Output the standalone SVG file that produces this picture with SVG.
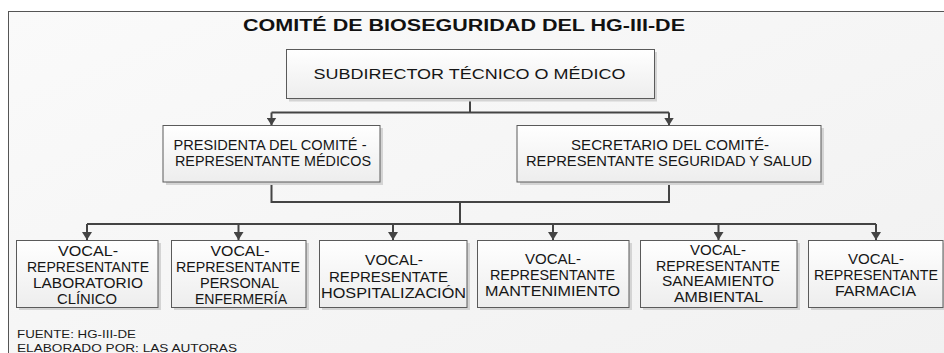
<svg xmlns="http://www.w3.org/2000/svg" width="944" height="353" viewBox="0 0 944 353">
<style>
.t{font-family:"Liberation Sans",Arial,sans-serif;fill:#161616;text-anchor:middle}
.title{font-size:16px;font-weight:bold;fill:#111}
.top{font-size:15px}
.mid{font-size:14px}
.bot{font-size:13.8px}
.foot{font-family:"Liberation Sans",Arial,sans-serif;font-size:11px;fill:#1a1a1a}
.box{fill:url(#bg);stroke:#5a5a5a;stroke-width:1}
.sh{fill:#d4d4d4}
.ln{fill:none;stroke:#444;stroke-width:2}
.ar{fill:none;stroke:#444;stroke-width:2;marker-end:url(#ah)}
</style>
<defs>
<linearGradient id="bg" x1="0" y1="0" x2="0" y2="1">
<stop offset="0" stop-color="#ffffff"/>
<stop offset="1" stop-color="#ededed"/>
</linearGradient>
<linearGradient id="frame" x1="0" y1="0" x2="1" y2="1">
<stop offset="0" stop-color="#fafafa"/>
<stop offset="1" stop-color="#f0f0f0"/>
</linearGradient>
<marker id="ah" viewBox="0 0 10 10" refX="10" refY="5" markerWidth="8" markerHeight="10" markerUnits="userSpaceOnUse" orient="auto" preserveAspectRatio="none">
<path d="M0,0 L10,5 L0,10 z" fill="#444"/>
</marker>
</defs>
<rect x="0" y="0" width="944" height="353" fill="#ffffff"/>
<rect id="frame-border" x="8.5" y="11.5" width="1000" height="400" fill="url(#frame)" stroke="#555" stroke-width="1"/>
<text class="t title" x="464" y="31" textLength="442" lengthAdjust="spacingAndGlyphs">COMITÉ DE BIOSEGURIDAD DEL HG-III-DE</text>

<g id="connectors">
<path class="ln" d="M470,98.5 V112.5 M271.5,112.5 H669"/>
<path class="ar" d="M271.5,112.5 V125.5"/>
<path class="ar" d="M669,112.5 V125.5"/>
<path class="ln" d="M271.5,182 V202 H669 V182 M460,202 V224 M87,224 H876"/>
<path class="ar" d="M87,224 V240"/>
<path class="ar" d="M238.5,224 V240"/>
<path class="ar" d="M393,224 V240"/>
<path class="ar" d="M553,224 V240"/>
<path class="ar" d="M718.5,224 V240"/>
<path class="ar" d="M876,224 V240"/>
</g>

<g id="subdirector">
<rect class="sh" x="289" y="52" width="368" height="49.5"/>
<rect class="box" x="286.5" y="49.5" width="368" height="49"/>
<text class="t top" x="469.5" y="79" textLength="312" lengthAdjust="spacingAndGlyphs">SUBDIRECTOR TÉCNICO O MÉDICO</text>
</g>

<g id="presidenta">
<rect class="sh" x="166" y="128" width="217" height="57"/>
<rect class="box" x="163" y="125.5" width="217" height="56.5"/>
<text class="t mid" x="270" y="150" textLength="193" lengthAdjust="spacingAndGlyphs">PRESIDENTA DEL COMITÉ -</text>
<text class="t mid" x="273" y="166" textLength="196" lengthAdjust="spacingAndGlyphs">REPRESENTANTE MÉDICOS</text>
</g>

<g id="secretario">
<rect class="sh" x="520" y="128" width="304" height="57"/>
<rect class="box" x="517" y="125.5" width="304" height="56.5"/>
<text class="t mid" x="670" y="150" textLength="198" lengthAdjust="spacingAndGlyphs">SECRETARIO DEL COMITÉ-</text>
<text class="t mid" x="669" y="166" textLength="286" lengthAdjust="spacingAndGlyphs">REPRESENTANTE SEGURIDAD Y SALUD</text>
</g>

<g id="vocal-laboratorio">
<rect class="sh" x="19" y="243" width="142" height="67"/>
<rect class="box" x="16.5" y="240.5" width="141.5" height="67"/>
<text class="t bot" x="88" y="256" textLength="60" lengthAdjust="spacingAndGlyphs">VOCAL-</text>
<text class="t bot" x="88" y="272" textLength="122" lengthAdjust="spacingAndGlyphs">REPRESENTANTE</text>
<text class="t bot" x="88" y="288" textLength="110" lengthAdjust="spacingAndGlyphs">LABORATORIO</text>
<text class="t bot" x="87" y="304" textLength="60" lengthAdjust="spacingAndGlyphs">CLÍNICO</text>
</g>

<g id="vocal-enfermeria">
<rect class="sh" x="174" y="243" width="135" height="67"/>
<rect class="box" x="171.5" y="240.5" width="134.5" height="67"/>
<text class="t bot" x="240" y="256" textLength="59" lengthAdjust="spacingAndGlyphs">VOCAL-</text>
<text class="t bot" x="238" y="272" textLength="124" lengthAdjust="spacingAndGlyphs">REPRESENTANTE</text>
<text class="t bot" x="239.5" y="288" textLength="79" lengthAdjust="spacingAndGlyphs">PERSONAL</text>
<text class="t bot" x="241" y="304" textLength="92" lengthAdjust="spacingAndGlyphs">ENFERMERÍA</text>
</g>

<g id="vocal-hospitalizacion">
<rect class="sh" x="322" y="243" width="148" height="67"/>
<rect class="box" x="319.5" y="240.5" width="147.5" height="67"/>
<text class="t bot" x="394" y="265" textLength="58" lengthAdjust="spacingAndGlyphs">VOCAL-</text>
<text class="t bot" x="388.5" y="282" textLength="119" lengthAdjust="spacingAndGlyphs">REPRESENTATE</text>
<text class="t bot" x="393.5" y="298" textLength="145" lengthAdjust="spacingAndGlyphs">HOSPITALIZACIÓN</text>
</g>

<g id="vocal-mantenimiento">
<rect class="sh" x="480" y="243" width="152" height="67"/>
<rect class="box" x="477.5" y="240.5" width="151.5" height="67"/>
<text class="t bot" x="553" y="264" textLength="56" lengthAdjust="spacingAndGlyphs">VOCAL-</text>
<text class="t bot" x="552.5" y="280" textLength="125" lengthAdjust="spacingAndGlyphs">REPRESENTANTE</text>
<text class="t bot" x="552.5" y="296" textLength="135" lengthAdjust="spacingAndGlyphs">MANTENIMIENTO</text>
</g>

<g id="vocal-saneamiento">
<rect class="sh" x="643" y="243" width="157" height="67"/>
<rect class="box" x="640.5" y="240.5" width="156.5" height="67"/>
<text class="t bot" x="718" y="255" textLength="56" lengthAdjust="spacingAndGlyphs">VOCAL-</text>
<text class="t bot" x="718" y="270.7" textLength="124" lengthAdjust="spacingAndGlyphs">REPRESENTANTE</text>
<text class="t bot" x="718" y="286.4" textLength="112" lengthAdjust="spacingAndGlyphs">SANEAMIENTO</text>
<text class="t bot" x="718.5" y="302.1" textLength="89" lengthAdjust="spacingAndGlyphs">AMBIENTAL</text>
</g>

<g id="vocal-farmacia">
<rect class="sh" x="811" y="243" width="136" height="67"/>
<rect class="box" x="808.5" y="240.5" width="134.5" height="67"/>
<text class="t bot" x="876" y="264" textLength="56" lengthAdjust="spacingAndGlyphs">VOCAL-</text>
<text class="t bot" x="876" y="280" textLength="124" lengthAdjust="spacingAndGlyphs">REPRESENTANTE</text>
<text class="t bot" x="875.5" y="296" textLength="81" lengthAdjust="spacingAndGlyphs">FARMACIA</text>
</g>

<text class="foot" x="17" y="338" textLength="119" lengthAdjust="spacingAndGlyphs">FUENTE: HG-III-DE</text>
<text class="foot" x="17" y="351.5" textLength="220" lengthAdjust="spacingAndGlyphs">ELABORADO POR: LAS AUTORAS</text>
</svg>
